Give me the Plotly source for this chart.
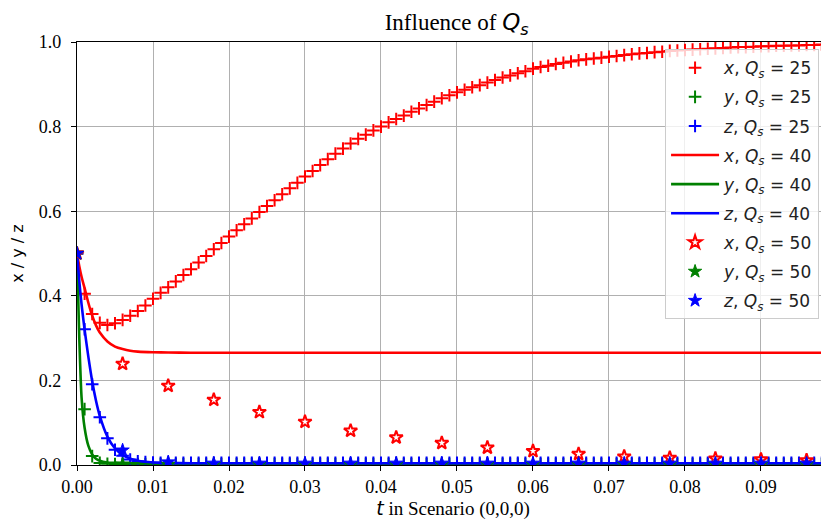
import plotly.graph_objects as go

# ---- data ----
t_q25 = [0.000, 0.001, 0.002, 0.003, 0.004, 0.005, 0.006, 0.007, 0.008, 0.009,
         0.010, 0.011, 0.012, 0.013, 0.014, 0.015, 0.016, 0.017, 0.018, 0.019,
         0.020, 0.021, 0.022, 0.023, 0.024, 0.025, 0.026, 0.027, 0.028, 0.029,
         0.030, 0.031, 0.032, 0.033, 0.034, 0.035, 0.036, 0.037, 0.038, 0.039,
         0.040, 0.041, 0.042, 0.043, 0.044, 0.045, 0.046, 0.047, 0.048, 0.049,
         0.050, 0.051, 0.052, 0.053, 0.054, 0.055, 0.056, 0.057, 0.058, 0.059,
         0.060, 0.061, 0.062, 0.063, 0.064, 0.065, 0.066, 0.067, 0.068, 0.069,
         0.070, 0.071, 0.072, 0.073, 0.074, 0.075, 0.076, 0.077, 0.078, 0.079,
         0.080, 0.081, 0.082, 0.083, 0.084, 0.085, 0.086, 0.087, 0.088, 0.089,
         0.090, 0.091, 0.092, 0.093, 0.094, 0.095, 0.096, 0.097, 0.098, 0.099]

x_q25 = [0.500, 0.405, 0.357, 0.336, 0.331, 0.335, 0.343, 0.353, 0.364, 0.377,
         0.393, 0.407, 0.420, 0.434, 0.449, 0.463, 0.479, 0.494, 0.510, 0.525,
         0.540, 0.555, 0.569, 0.583, 0.598, 0.612, 0.626, 0.640, 0.654, 0.667,
         0.682, 0.695, 0.709, 0.723, 0.736, 0.748, 0.760, 0.771, 0.781, 0.791,
         0.800, 0.810, 0.818, 0.826, 0.835, 0.843, 0.851, 0.859, 0.867, 0.874,
         0.881, 0.887, 0.893, 0.898, 0.904, 0.910, 0.916, 0.921, 0.926, 0.931,
         0.937, 0.941, 0.944, 0.948, 0.951, 0.954, 0.957, 0.959, 0.961, 0.963,
         0.965, 0.967, 0.969, 0.971, 0.973, 0.974, 0.976, 0.977, 0.979, 0.980,
         0.981, 0.982, 0.983, 0.984, 0.985, 0.986, 0.987, 0.988, 0.988, 0.989,
         0.990, 0.990, 0.991, 0.991, 0.992, 0.992, 0.993, 0.993, 0.994, 0.994]

y_q25 = [0.500, 0.132, 0.021, 0.005, 0.003] + [0.002] * 95

z_q25 = [0.500, 0.321, 0.191, 0.113, 0.063, 0.036, 0.022, 0.013, 0.009, 0.007,
         0.006] + [0.005] * 89

t_q40 = [0.0, 0.0003, 0.0006, 0.001, 0.0015, 0.002, 0.0025, 0.003, 0.004,
         0.005, 0.006, 0.007, 0.008, 0.010, 0.012, 0.015, 0.020, 0.099]
x_q40 = [0.500, 0.470, 0.445, 0.418, 0.383, 0.353, 0.330, 0.313, 0.292,
         0.280, 0.274, 0.270, 0.268, 0.2665, 0.266, 0.2655, 0.2655, 0.2655]
y_q40 = [0.500, 0.300, 0.160, 0.088, 0.045, 0.025, 0.015, 0.010, 0.006,
         0.005, 0.004, 0.004, 0.004, 0.004, 0.004, 0.004, 0.004, 0.004]
z_q40 = [0.500, 0.435, 0.380, 0.320, 0.255, 0.198, 0.152, 0.116, 0.067,
         0.039, 0.024, 0.015, 0.010, 0.006, 0.005, 0.004, 0.004, 0.004]

t_q50 = [0.000, 0.006, 0.012, 0.018, 0.024, 0.030, 0.036, 0.042, 0.048,
         0.054, 0.060, 0.066, 0.072, 0.078, 0.084, 0.090, 0.096]
x_q50 = [0.500, 0.239, 0.187, 0.154, 0.125, 0.102, 0.081, 0.065, 0.052,
         0.041, 0.033, 0.026, 0.020, 0.017, 0.015, 0.013, 0.011]
y_q50 = [0.500, 0.002, 0.001, 0.001, 0.001, 0.001, 0.001, 0.001, 0.001,
         0.001, 0.001, 0.001, 0.001, 0.001, 0.001, 0.001, 0.001]
z_q50 = [0.500, 0.035, 0.007, 0.004, 0.004, 0.004, 0.004, 0.004, 0.004,
         0.004, 0.004, 0.004, 0.004, 0.004, 0.004, 0.004, 0.004]

x_ticks = [0.00, 0.01, 0.02, 0.03, 0.04, 0.05, 0.06, 0.07, 0.08, 0.09]
y_ticks = [0.0, 0.2, 0.4, 0.6, 0.8, 1.0]

RED, GREEN, BLUE = "#ff0000", "#008000", "#0000ff"
MATH = "DejaVu Sans"
SERIF = "Liberation Serif, Times New Roman, serif"


def lab(var, q):
    return f"<i>{var}</i>, <i>Q<sub>s</sub></i> = {q}"


fig = go.Figure()

for var, vals, col in [("x", x_q25, RED), ("y", y_q25, GREEN), ("z", z_q25, BLUE)]:
    fig.add_trace(go.Scatter(
        x=t_q25, y=vals, mode="markers", name=lab(var, 25),
        legendgroup=f"{var}25",
        marker=dict(symbol="cross-thin", size=9, color=col,
                    line=dict(color=col, width=2)),
    ))

for var, vals, col in [("x", x_q40, RED), ("y", y_q40, GREEN), ("z", z_q40, BLUE)]:
    fig.add_trace(go.Scatter(
        x=t_q40, y=vals, mode="lines", name=lab(var, 40),
        legendgroup=f"{var}40",
        line=dict(color=col, width=2.6, shape="spline", smoothing=0.6),
    ))

fig.add_trace(go.Scatter(
    x=t_q50, y=x_q50, mode="markers", name=lab("x", 50), legendgroup="x50",
    marker=dict(symbol="star", size=10, color="white",
                line=dict(color=RED, width=2)),
))
for var, vals, col in [("y", y_q50, GREEN), ("z", z_q50, BLUE)]:
    fig.add_trace(go.Scatter(
        x=t_q50, y=vals, mode="markers", name=lab(var, 50),
        legendgroup=f"{var}50",
        marker=dict(symbol="star", size=10, color=col,
                    line=dict(color=col, width=1)),
    ))

# The page body has an 8px margin, so the figure is 8px smaller than the window.
fig.update_layout(
    width=821, height=516,
    margin=dict(l=69, r=0, t=34, b=59, autoexpand=False),
    paper_bgcolor="white", plot_bgcolor="white",
    title=dict(
        text=f"Influence of <span style='font-family:{MATH}'><i>Q<sub>s</sub></i></span>",
        x=0.5465, xanchor="center", y=0.973, yanchor="middle",
        font=dict(family=SERIF, size=23, color="black"),
    ),
    showlegend=True,
    legend=dict(
        x=0.782, xanchor="left", y=0.983, yanchor="top",
        bgcolor="rgba(255,255,255,0.8)", bordercolor="#cccccc", borderwidth=1,
        font=dict(family=MATH, size=17, color="#222222"),
        tracegroupgap=4, itemwidth=48,
    ),
    xaxis=dict(
        range=[0, 0.09895], tickvals=x_ticks, tickformat=".2f",
        automargin=False,
        showgrid=True, gridcolor="#b0b0b0", gridwidth=1.2,
        showline=True, linecolor="black", linewidth=1.3, mirror=True,
        ticks="outside", ticklen=5, tickwidth=1.3, tickcolor="black",
        tickfont=dict(family=SERIF, size=18, color="black"),
        zeroline=False,
        title=dict(
            text=f"<span style='font-family:{MATH}'><i>t</i></span> in Scenario (0,0,0)",
            font=dict(family=SERIF, size=19, color="black"), standoff=5,
        ),
    ),
    yaxis=dict(
        range=[0, 1.0], tickvals=y_ticks, tickformat=".1f",
        automargin=False,
        showgrid=True, gridcolor="#b0b0b0", gridwidth=1.2,
        showline=True, linecolor="black", linewidth=1.3,
        ticks="outside", ticklen=5, tickwidth=1.3, tickcolor="black",
        tickfont=dict(family=SERIF, size=18, color="black"),
        ticklabelstandoff=6,
        zeroline=False,
        title=dict(text="x / y / z", font=dict(family=MATH, size=16, color="black"),
                   standoff=18),
    ),
)

fig.write_html("out.html")
